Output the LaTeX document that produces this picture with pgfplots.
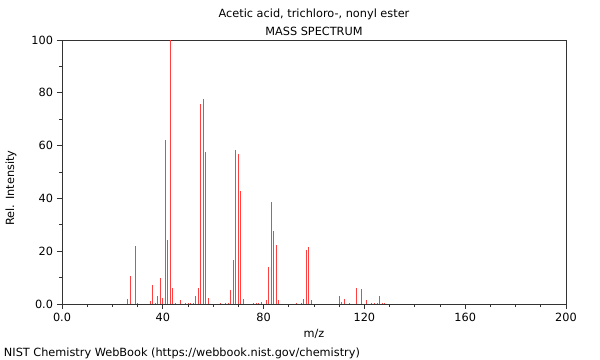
\documentclass[border=0pt]{standalone}
\usepackage{fontspec}
\setmainfont{DejaVu Sans}
\usepackage{pgfplots}
\pgfplotsset{compat=1.18}
\begin{document}
\fontsize{11.3bp}{13bp}\selectfont
\begin{tikzpicture}
\useasboundingbox (0,0) rectangle (600bp,360bp);
\begin{axis}[
  at={(62bp,56bp)}, anchor=south west,
  scale only axis, width=504bp, height=264bp,
  xmin=0, xmax=200, ymin=0, ymax=100,
  xtick={0,40,80,120,160,200},
  xticklabels={0.0,40,80,120,160,200},
  ytick={0,20,40,60,80,100},
  yticklabels={0.0,20,40,60,80,100},
  minor x tick num=3, minor y tick num=1,
  tick pos=left, tick align=outside,
  major tick length=5bp, minor tick length=3bp,
  axis line style={black!80, line width=0.8bp},
  every tick/.style={black!80, line width=0.7bp},
  tick label style={font=\fontsize{11.3bp}{13bp}\selectfont},
  /pgf/number format/assume math mode=true,
  clip=false,
]
\addplot[ycomb, red!75, line width=1bp, mark=none] table {
26 1.8
27 10.7
29 22
30 0.5
35 1
36 7.3
37 0.5
38 3
39 9.7
40 2.4
41 62.2
42 24.4
43 100
44 6.2
45 0.5
47 1.4
49 0.5
50 0.5
51 0.5
52 0.3
53 3.2
54 5.9
55 75.9
56 77.7
57 57.6
58 2.1
63 0.3
65 0.3
66 0.3
67 5.3
68 16.7
69 58.3
70 56.8
71 42.9
72 1.8
76 0.5
77 0.3
78 0.3
79 0.8
81 1.5
82 14
83 38.6
84 27.5
85 22.5
86 1.4
93 0.3
95 0.5
96 2
97 20.3
98 21.6
99 1.4
110 3.1
111 0.6
112 2
114 0.2
117 6
119 5.7
121 1.5
123 0.2
124 0.2
125 0.2
126 3
127 0.4
128 0.4
};
\end{axis}
\node at (314bp,346bp) {Acetic acid, trichloro-, nonyl ester};
\node at (314bp,329bp) {MASS SPECTRUM};
\node at (314bp,26bp) {m/z};
\node[rotate=90] at (11bp,172bp) {Rel. Intensity};
\node[anchor=west] at (0bp,7bp) {NIST Chemistry WebBook (https://webbook.nist.gov/chemistry)};
\end{tikzpicture}
\end{document}
